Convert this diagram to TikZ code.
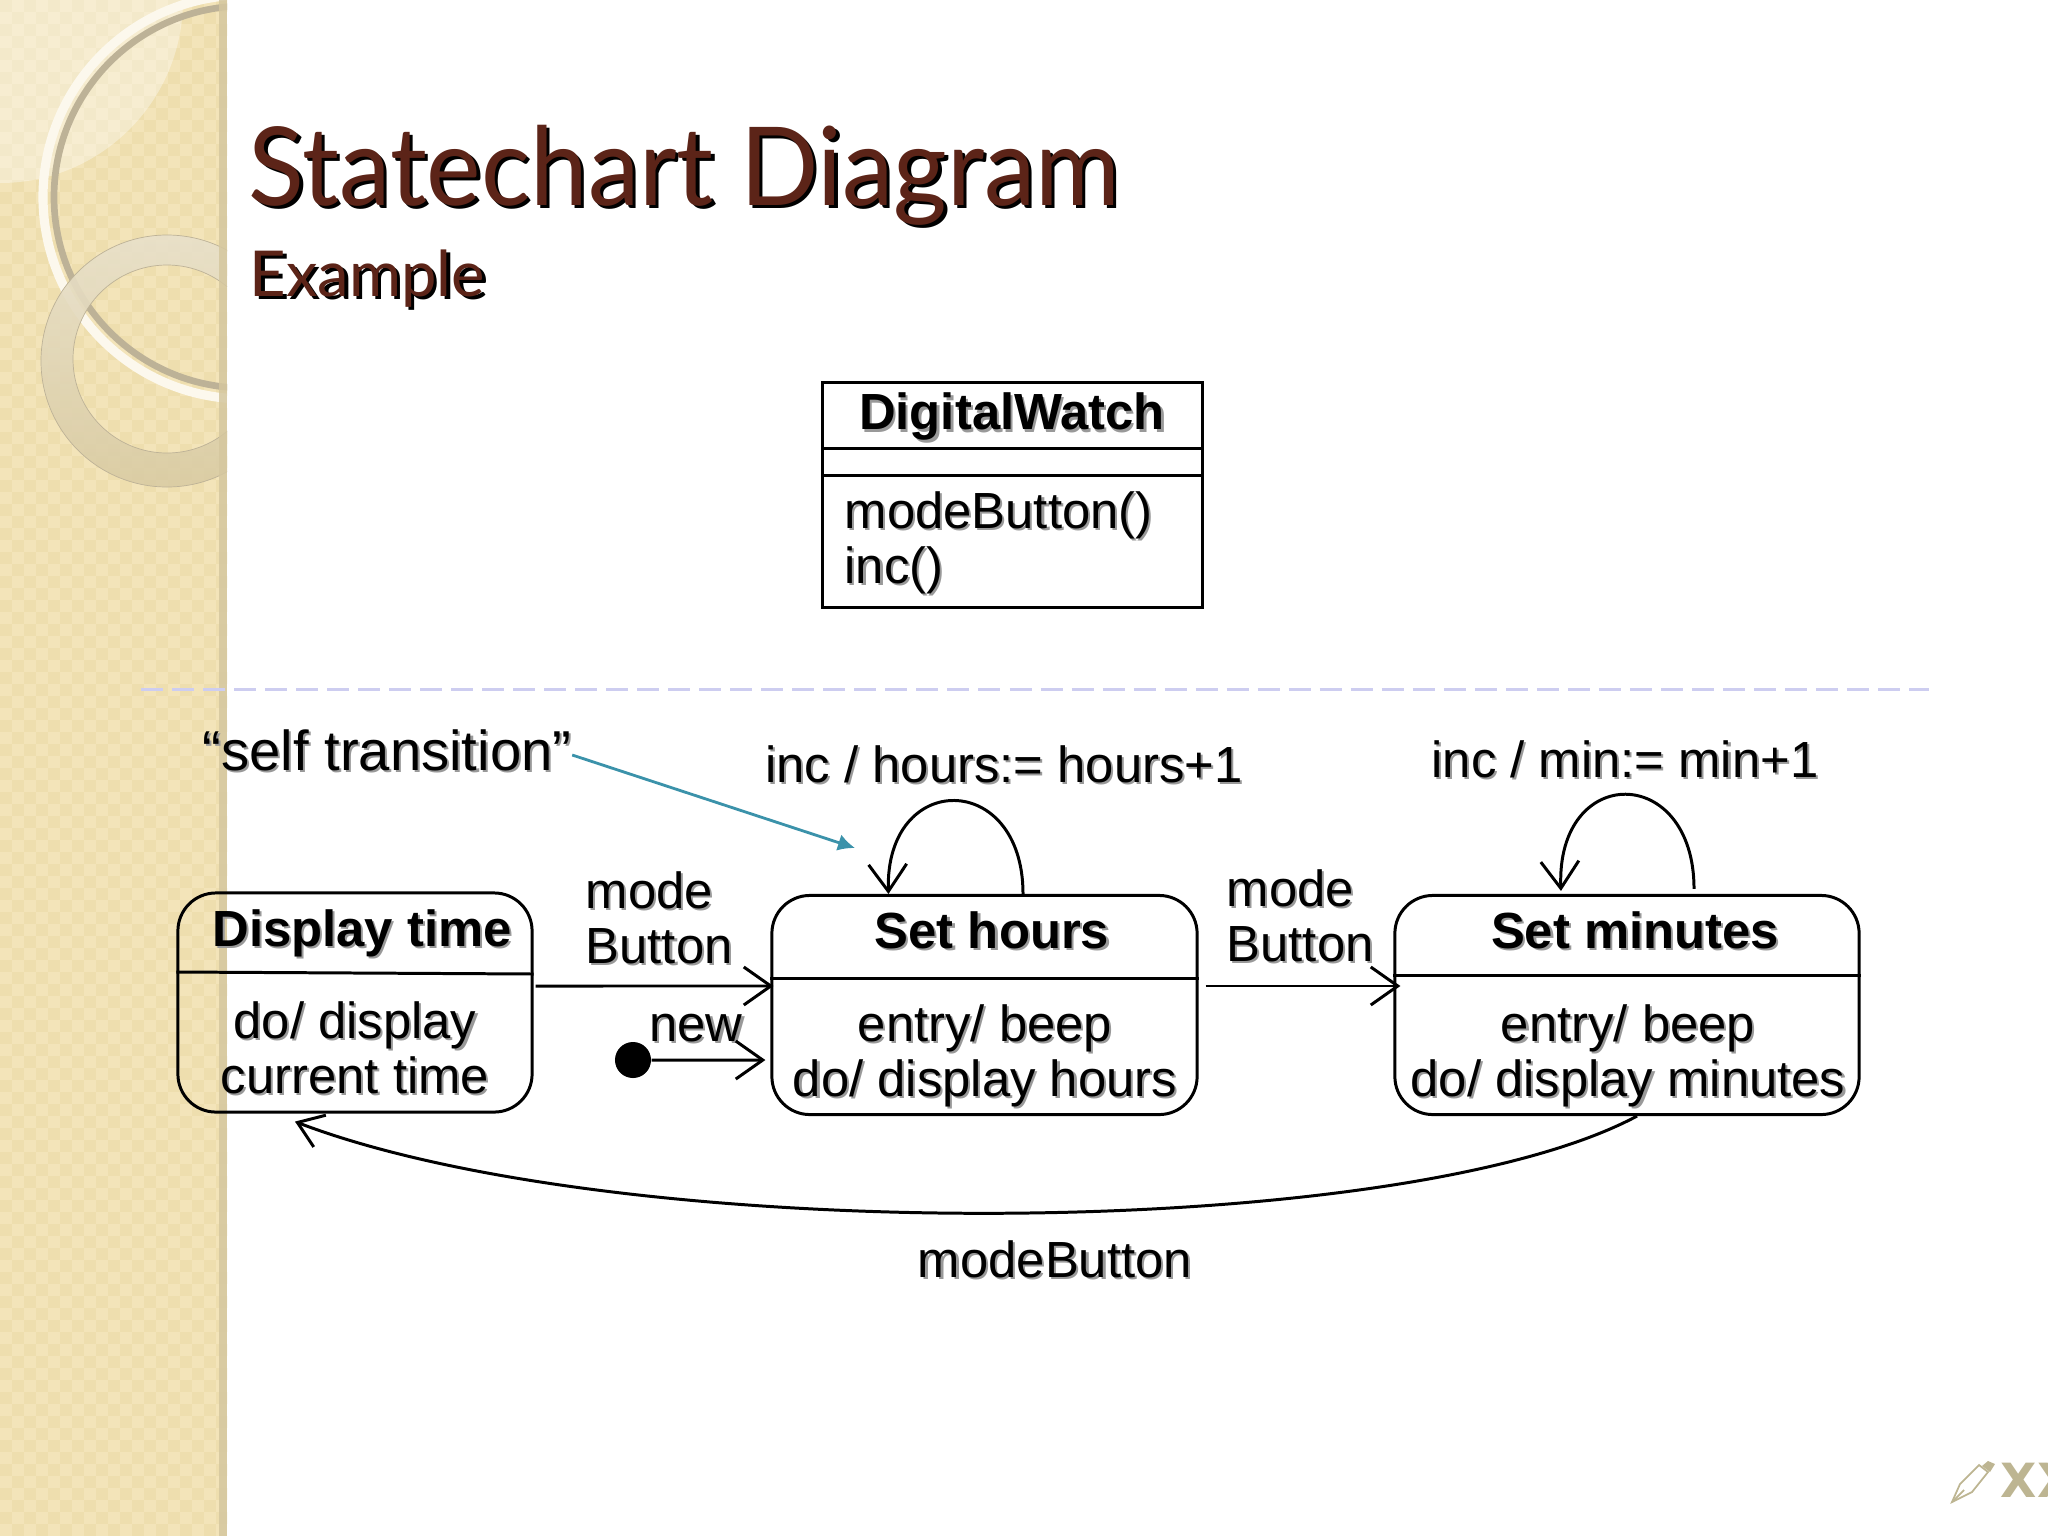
\documentclass[tikz,border=0pt]{standalone}
\usepackage{fontspec}
\setmainfont{Liberation Sans}
\newfontfamily\titlefont{Lato}
\newfontfamily\logofont{DejaVu Sans}
\usetikzlibrary{arrows.meta}
\definecolor{bandcol}{HTML}{F3E4B9}
\definecolor{bandalt}{HTML}{EEDEAE}
\definecolor{stripcol}{HTML}{D5C79F}
\definecolor{ringcol}{HTML}{BDB297}
\definecolor{titlecol}{HTML}{5C2418}
\definecolor{tealcol}{HTML}{3B92AA}
\definecolor{dashcol}{HTML}{CDCDF0}
\definecolor{logocol}{HTML}{BDB592}
\newcommand{\shd}[1]{\rlap{\kern.6pt\raisebox{-.6pt}{\color{black!40}#1}}#1}
\newcommand{\shdtitle}[1]{\rlap{\kern1pt\raisebox{-1pt}{\color{black}#1}}{\color{titlecol}#1}}
\tikzset{
    statebox/.style={draw,rounded corners=.38cm,line width=.85pt},
    classbox/.style={draw,line width=.85pt,minimum width=3.79cm,minimum height=2.24cm},
    trans/.style={-{Straight Barb[length=.27cm,width=.38cm]},line width=.85pt},
    label/.style={inner sep=0pt,align=center,font=\fontsize{14.45}{15.7}\selectfont},
    head/.style={label,font=\fontsize{14.45}{15.7}\selectfont\bfseries}
}

\begin{document}
\begin{tikzpicture}[x=.01cm,y=-.01cm]
    \useasboundingbox (0,0) rectangle (2048,1536);
    % band on the left
    \begin{scope}
        \clip (0,0) rectangle (227,1536);
        \fill[bandcol] (0,0) rectangle (227,1536);
        \foreach \y in {0,24,...,1512}{
            \foreach \x in {0,24,...,216}{
                \fill[bandalt] (\x,\y) rectangle ++(12,12);
                \fill[bandalt] (\x+12,\y+12) rectangle ++(12,12);
            }
        };
        \fill[white,opacity=.35] (0,0) circle (183);
        \draw[line width=2.6pt,color=white!75!bandcol] (245,197) circle (202);
        \draw[line width=1.9pt,color=ringcol] (245,197) circle (191);
        \shade[even odd rule,top color=white!45!stripcol,bottom color=stripcol!85!bandcol,opacity=.9] (167,361) circle (126) (167,359) circle (94);
        \draw[ringcol,very thin] (167,361) circle (126) (167,359) circle (94);
        \fill[stripcol,opacity=.85] (219,0) rectangle (227,1536);
    \end{scope}

    % title
    \node[anchor=base west,inner sep=0pt,font=\titlefont\fontsize{31}{31}\selectfont] (title) at (248,205) {\scalebox{.946}[1]{\shdtitle{Statechart Diagram}}};
    \node[anchor=base west,inner sep=0pt,font=\titlefont\fontsize{18}{18}\selectfont] (subtitle) at (249,296) {\shdtitle{Example}};

    % class box
    \node[classbox] (watch) at (1012.5,495) {};
    \draw[line width=.85pt] (watch.west |- 0,448) -- (watch.east |- 0,448);
    \draw[line width=.85pt] (watch.west |- 0,475) -- (watch.east |- 0,475);
    \node[head] (watchname) at (1012,418) {\shd{DigitalWatch}};
    \node[label,anchor=west,align=left] (watchops) at (844,544) {\shd{modeButton()}\\\shd{inc()}};

    \draw[dashcol,line width=.85pt,dash pattern=on .22cm off .09cm] (141,689) -- (1929,689);

    % states
    \node[statebox,minimum width=3.54cm,minimum height=2.19cm] (disp) at (355,1002.5) {};
    \node[statebox,minimum width=4.25cm,minimum height=2.19cm] (hours) at (984.5,1005) {};
    \node[statebox,minimum width=4.64cm,minimum height=2.19cm] (mins) at (1627,1005) {};
    \draw[line width=.85pt] (disp.west |- 0,972) -- (disp.east |- 0,974);
    \draw[line width=.85pt] (hours.west |- 0,978) -- (hours.east |- 0,978);
    \draw[line width=.85pt] (mins.west |- 0,975) -- (mins.east |- 0,975);

    \node[head] (dispname) at (362,934) {\shd{Display time}};
    \node[label] (dispdo) at (355,1049) {\shd{do/ display}\\\shd{current time}};
    \node[head] (hoursname) at (992,931) {\shd{Set hours}};
    \node[label] (hoursdo) at (985,1057) {\shd{entry/ beep}\\\shd{do/ display hours}};
    \node[head] (minsname) at (1635,931) {\shd{Set minutes}};
    \node[label] (minsdo) at (1628,1057) {\shd{entry/ beep}\\\shd{do/ display minutes}};

    % labels
    \node[label,font=\fontsize{16}{16}\selectfont] (selfnote) at (387,751) {\shd{“self transition”}};
    \node[label] (hoursinc) at (1004,765) {\shd{inc / hours:= hours+1}};
    \node[label] (minsinc) at (1625,760) {\shd{inc / min:= min+1}};
    \node[label,anchor=west,align=left] (modea) at (585,919) {\shd{mode}\\\shd{Button}};
    \node[label,anchor=west,align=left] (modeb) at (1226,917) {\shd{mode}\\\shd{Button}};
    \node[label] (newlabel) at (696,1029) {\shd{new}};
    \node[label] (modec) at (1055,1260) {\shd{modeButton}};

    % transitions
    \node[circle,fill=black,inner sep=0pt,minimum size=.36cm] (init) at (633,1060) {};
    \draw[trans] (init) -- ([xshift=-.05cm,yshift=-.55cm]hours.west);
    \draw[trans] ([xshift=.02cm,yshift=.165cm]disp.east) -- ([xshift=.03cm,yshift=.19cm]hours.west);
    \draw[trans] ([xshift=.07cm,yshift=.19cm]hours.east) -- ([xshift=.07cm,yshift=.19cm]mins.west);
    \draw[trans] ([xshift=.385cm]hours.north) .. controls (1023,770) and (885,770) .. ([xshift=-.96cm]hours.north);
    \draw[trans] ([xshift=.67cm,yshift=.05cm]mins.north) .. controls (1694,763) and (1556,763) .. ([xshift=-.66cm,yshift=.03cm]mins.north);
    \draw[-{Straight Barb[length=.24cm,width=.34cm]},line width=.85pt] ([xshift=.1cm]mins.south) .. controls (1400,1243) and (620,1246) .. ([xshift=-.6cm,yshift=-.08cm]disp.south);
    \draw[tealcol,line width=.8pt,-{Latex[length=.17cm,width=.17cm]}] (selfnote.east |- 0,755) -- (855,848);

    % logo
    \draw[logocol,line width=.5pt] (1952,1502) -- (1960,1484) -- (1979,1465) -- (1988,1472) -- (1972,1492) -- cycle;
    \draw[logocol,line width=.5pt] (1952,1502) -- (1964,1490);
    \fill[logocol] (1982,1466) -- (1988,1461) -- (1995,1464) -- (1990,1472) -- cycle;
    \node[anchor=base west,inner sep=0pt,logocol,font=\logofont\bfseries\fontsize{13.4}{13.4}\selectfont] (logo) at (2000,1497) {XX};
\end{tikzpicture}
\end{document}
